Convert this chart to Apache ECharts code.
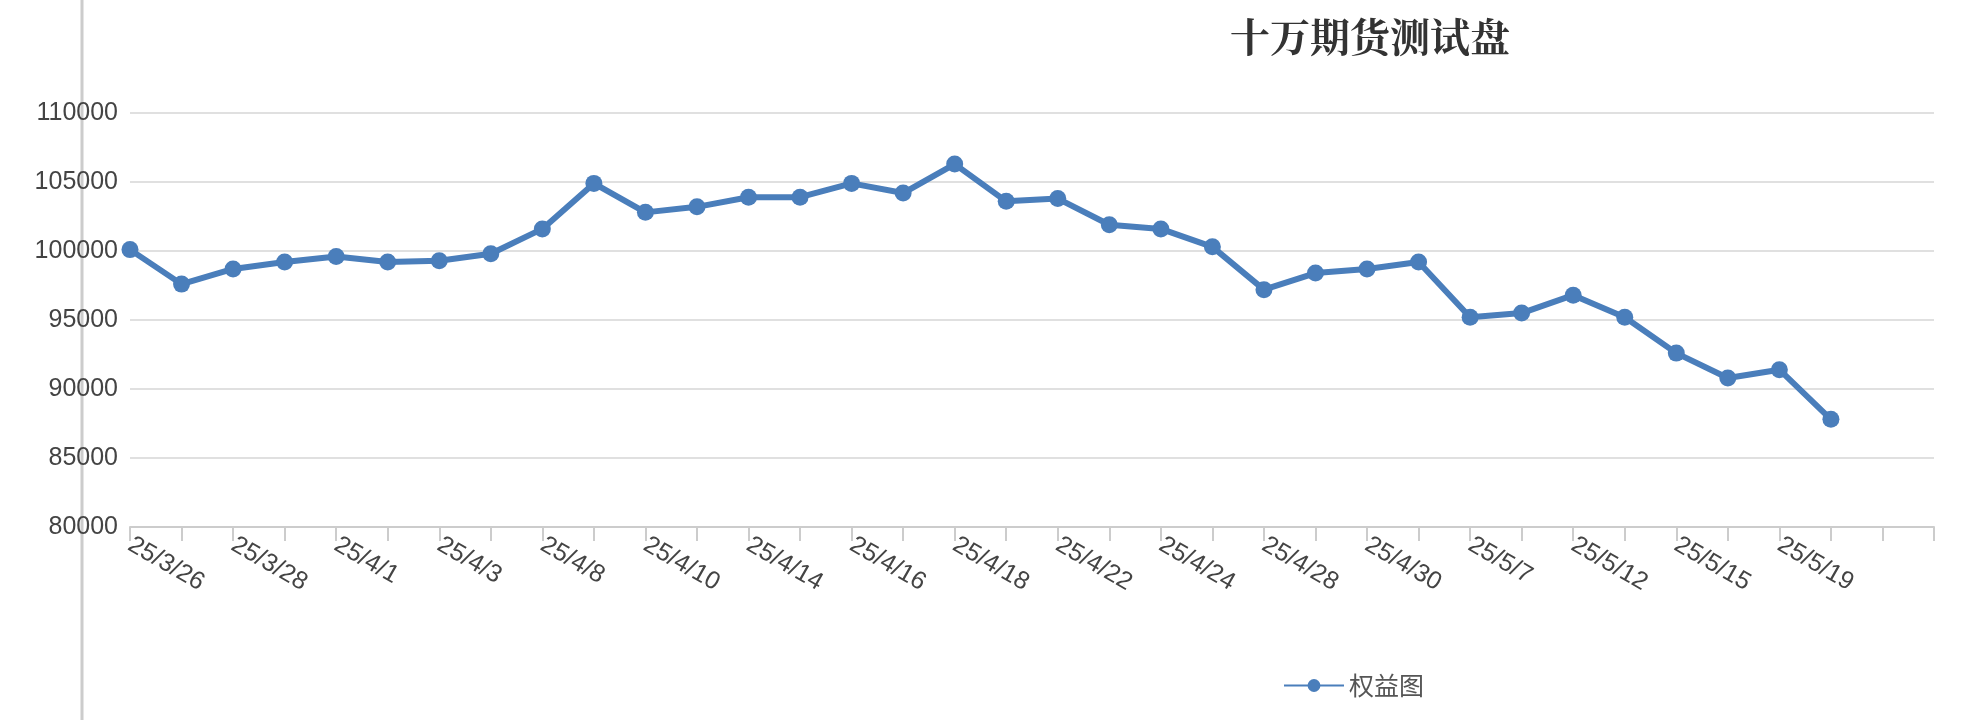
<!DOCTYPE html>
<html><head><meta charset="utf-8">
<script src="https://cdn.jsdelivr.net/npm/echarts@6/dist/echarts.min.js"></script>
<style>html,body{margin:0;padding:0;background:#fff}#c{width:1976px;height:720px}</style>
</head><body><div id="c"></div>
<script>
const categories=['25/3/26','25/3/27','25/3/28','25/3/31','25/4/1','25/4/2','25/4/3','25/4/7','25/4/8','25/4/9','25/4/10','25/4/11','25/4/14','25/4/15','25/4/16','25/4/17','25/4/18','25/4/21','25/4/22','25/4/23','25/4/24','25/4/25','25/4/28','25/4/29','25/4/30','25/5/6','25/5/7','25/5/9','25/5/12','25/5/14','25/5/15','25/5/16','25/5/19','25/5/20','',''];
const equity=[100100,97600,98700,99200,99600,99200,99300,99800,101600,104900,102800,103200,103900,103900,104900,104200,106300,103600,103800,101900,101600,100300,97200,98400,98700,99200,95200,95500,96800,95200,92600,90800,91400,87800];
const yTicks=[80000,85000,90000,95000,100000,105000,110000];
const chart=echarts.init(document.getElementById('c'));
chart.setOption({
  animation:false,
  title:{text:'十万期货测试盘',left:1365,top:12,textAlign:'center',textStyle:{fontFamily:'Noto Serif CJK SC, Noto Sans CJK SC',fontWeight:'bold',fontSize:40,color:'#333'}},
  graphic:[{type:'line',shape:{x1:82,y1:0,x2:82,y2:720},style:{stroke:'#ccc',lineWidth:3}}],
  legend:{left:1278,top:668,itemWidth:60,itemHeight:16,textStyle:{fontSize:25,color:'#555',fontFamily:'Noto Sans CJK SC'},data:['权益图']},
  grid:{left:130,right:42,top:113,bottom:193},
  xAxis:{type:'category',boundaryGap:false,data:categories,
    axisLine:{lineStyle:{color:'#ccc',width:2}},
    axisTick:{show:true,interval:0,length:14,lineStyle:{color:'#ccc',width:2}},
    axisLabel:{interval:1,rotate:-30,fontSize:25,color:'#444',margin:16,align:'left'}},
  yAxis:{type:'value',min:yTicks[0],max:yTicks[yTicks.length-1],interval:5000,
    axisLabel:{fontSize:25,color:'#444',margin:12,formatter:v=>String(v)},
    splitLine:{lineStyle:{color:'#e0e0e0',width:2}},axisLine:{show:false}},
  series:[{name:'权益图',type:'line',data:equity,symbol:'circle',symbolSize:17,
    itemStyle:{color:'#4a7ebb'},lineStyle:{color:'#4a7ebb',width:6}}]
});
</script></body></html>
